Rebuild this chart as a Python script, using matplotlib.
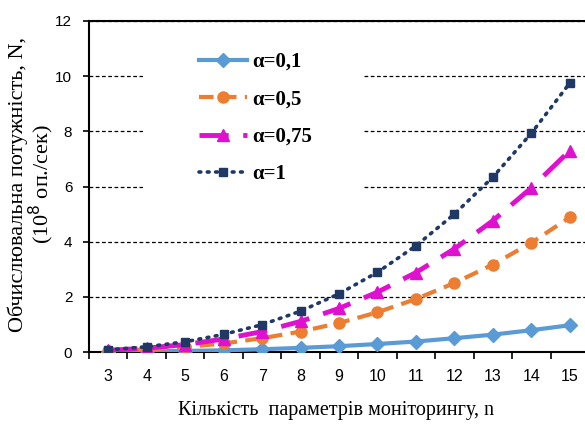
import matplotlib
matplotlib.use("Agg")
import matplotlib.pyplot as plt
from matplotlib.patches import Rectangle

n_values = [3, 4, 5, 6, 7, 8, 9, 10, 11, 12, 13, 14, 15]
alpha_01 = [0.01, 0.02, 0.04, 0.06, 0.10, 0.15, 0.21, 0.29, 0.38, 0.50, 0.63, 0.79, 0.97]
alpha_05 = [0.04, 0.09, 0.18, 0.31, 0.50, 0.74, 1.05, 1.44, 1.92, 2.50, 3.17, 3.96, 4.88]
alpha_075 = [0.06, 0.14, 0.27, 0.47, 0.74, 1.11, 1.58, 2.17, 2.88, 3.74, 4.76, 5.95, 7.30]
alpha_1 = [0.08, 0.19, 0.37, 0.64, 0.99, 1.48, 2.11, 2.89, 3.85, 5.00, 6.34, 7.93, 9.75]
series_labels = ["α=0,1", "α=0,5", "α=0,75", "α=1"]
y_ticks = [0, 2, 4, 6, 8, 10, 12]

fig = plt.figure(figsize=(5.85, 4.24), dpi=100)
ax = fig.add_axes([89/585, 1-352/424, 500/585, 331/424])

x = list(range(len(n_values)))
ax.plot(x, alpha_01, color="#5B9BD5", lw=3, marker="D", ms=7, label=series_labels[0], zorder=3)
ax.plot(x, alpha_05, color="#ED7D31", lw=3, ls=(0, (3.5, 2)), marker="o", ms=8, label=series_labels[1], zorder=3)
ax.plot(x, alpha_075, color="#E010D0", lw=3.5, ls=(0, (6, 3)), marker="^", ms=9, label=series_labels[2], zorder=3)
ax.plot(x, alpha_1, color="#1F3864", lw=2.6, ls=(0, (0.5, 1.8)), dash_capstyle="round", marker="s", ms=6, label=series_labels[3], zorder=3)

ax.set_xlim(-0.5, len(n_values) - 0.5)
ax.set_ylim(0, 12)
ax.set_yticks(y_ticks)
ax.set_yticklabels([str(v) for v in y_ticks], fontfamily="Liberation Sans", fontsize=11)
ax.set_xticks([i - 0.5 for i in range(len(n_values) + 1)])
ax.set_xticklabels([])
ax.set_xticks(x, minor=True)
ax.set_xticklabels([str(v) for v in n_values], minor=True, fontfamily="Liberation Sans", fontsize=11.5)
ax.tick_params(axis="x", which="major", direction="out", length=5, width=1.2)
ax.tick_params(axis="x", which="minor", length=0, pad=12)
ax.tick_params(axis="y", direction="out", length=4, width=1.2, pad=8)

ax.set_axisbelow(True)
ax.yaxis.grid(True, ls=(0, (3, 2)), color="black", lw=0.9)
ax.spines["right"].set_visible(False)
for s in ["left", "bottom", "top"]:
    ax.spines[s].set_linewidth(1.5)

ax.add_patch(Rectangle((0.108, 0.489), 0.438, 0.46, transform=ax.transAxes,
                       facecolor="white", edgecolor="none", zorder=1))

leg = ax.legend(loc="upper left", bbox_to_anchor=(0.183, 0.963), frameon=False,
                prop={"family": "Liberation Serif", "size": 15, "weight": "bold"},
                handlelength=2.3, handletextpad=0.25, labelspacing=0.84)
leg.set_zorder(5)

fig.text(32/585, 1-184/424, "Обчислювальна потужність, N,\n(10$^8$ оп./сек)",
         rotation=90, ha="center", va="center", multialignment="center",
         fontfamily="Liberation Serif", fontsize=16, linespacing=0.95)
fig.text(336/585, 1-410/424, "Кількість  параметрів моніторингу, n",
         ha="center", va="center", fontfamily="Liberation Serif", fontsize=14.5)

fig.savefig("out.png", dpi=100)
